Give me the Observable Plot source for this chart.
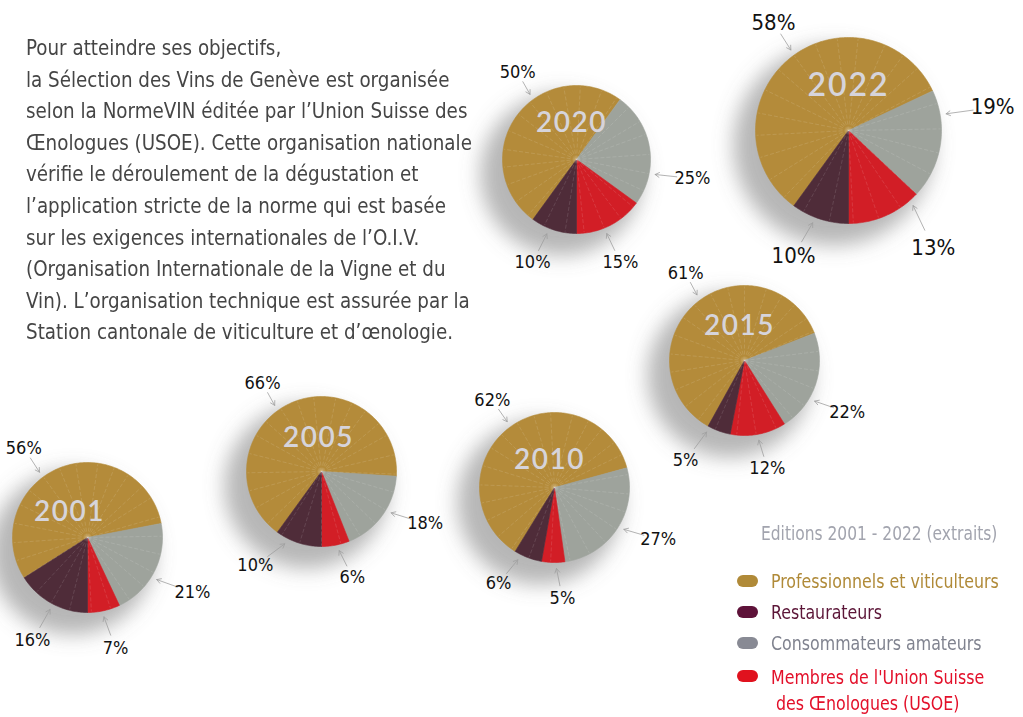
<!DOCTYPE html>
<html><head><meta charset="utf-8">
<script src="https://cdn.jsdelivr.net/npm/d3@7"></script>
<script src="https://cdn.jsdelivr.net/npm/@observablehq/plot@0.6"></script>
<style>
body{margin:0;background:#fff;}
#wrap{position:relative;width:1023px;height:717px;overflow:hidden;font-family:"Liberation Sans Narrow","DejaVu Sans Condensed","Roboto",sans-serif;}
#chart{position:absolute;left:0;top:0;}
#intro{position:absolute;left:26px;top:32px;font-size:22px;line-height:31.6px;color:#454545;white-space:pre;transform:scaleX(0.925);transform-origin:0 0;}
#legendTitle{position:absolute;left:761px;top:521px;font-size:20px;line-height:24px;color:#a2a4ae;white-space:nowrap;transform:scaleX(0.86);transform-origin:0 0;}
.lrow{position:absolute;left:737px;height:24px;white-space:nowrap;font-size:20px;line-height:24px;}
.pill{position:absolute;left:0;top:6px;width:21px;height:12px;border-radius:6px;}
.ltxt{position:absolute;left:34px;top:0;transform:scaleX(0.88);transform-origin:0 0;}
</style></head><body>
<div id="wrap"><div id="chart"></div><div id="intro"></div><div id="legend"></div></div>
<script>
// ---------- data ----------
const years = ["2001", "2005", "2010", "2015", "2020", "2022"];
const categories = ["Professionnels et viticulteurs", "Restaurateurs", "Consommateurs amateurs", "Membres de l'Union Suisse des Œnologues (USOE)"];
const professionnels = [56, 66, 62, 61, 50, 58];
const restaurateurs  = [16, 10, 6, 5, 10, 10];
const consommateurs  = [21, 18, 27, 22, 25, 19];
const membres        = [7, 6, 5, 12, 15, 13];
const legendTitle = "Editions 2001 - 2022 (extraits)";
const introLines = [
  "Pour atteindre ses objectifs,",
  "la Sélection des Vins de Genève est organisée",
  "selon la NormeVIN éditée par l’Union Suisse des",
  "Œnologues (USOE). Cette organisation nationale",
  "vérifie le déroulement de la dégustation et",
  "l’application stricte de la norme qui est basée",
  "sur les exigences internationales de l’O.I.V.",
  "(Organisation Internationale de la Vigne et du",
  "Vin). L’organisation technique est assurée par la",
  "Station cantonale de viticulture et d’œnologie."
];

// ---------- styles / layout ----------
const pieColors = ["#b48b3a", "#4f2c39", "#9ea39c", "#d21e26"];
const legendColors = ["#b08a38", "#5e1239", "#888a94", "#e0121e"];
const legendTextColors = ["#b08a38", "#5c1638", "#80838f", "#e3102a"];
const legendRowsY = [581, 612, 643, 676];
// pie centre, radius, angle of red/dark boundary, year label position
const pieLayout = [
  {cx: 87,  cy: 537, r: 75, rot: 180, yx: 69,  yy: 512, ys: 28, ps: 18},
  {cx: 321, cy: 471, r: 75, rot: 180, yx: 318, yy: 438, ys: 28, ps: 18},
  {cx: 554, cy: 487, r: 75, rot: 190, yx: 549, yy: 460, ys: 28, ps: 18},
  {cx: 744, cy: 360, r: 75, rot: 191, yx: 739, yy: 326, ys: 28, ps: 18},
  {cx: 576, cy: 159, r: 74, rot: 180, yx: 571, yy: 123, ys: 28, ps: 18},
  {cx: 848, cy: 130, r: 93, rot: 180, yx: 848, yy: 85,  ys: 32, ps: 22}
];
// per pie, per category: [text angle, text distance, arrow tip angle]
const labelLayout = [
  [[324.6,110,323.7],[208.1,117,207.5],[117.6,118.5,121.3],[165.8,114.5,168.3]],
  [[326.2,106,324.7],[215.1,115,206.9],[116.6,116,120.7],[163.7,110,167.4]],
  [[324.5,107,324.3],[210.3,111,206.9],[116.6,116,121.1],[175.9,111,178.6]],
  [[325.9,105,324.1],[210.5,116,207.9],[116.8,115,120.1],[168,110,169.8]],
  [[325.9,105,324.5],[203.1,112,201.7],[99.3,117.5,100.8],[156.9,112,157.8]],
  [[325.2,131.5,324.4],[203.7,136.6,201.2],[80.9,146,80.3],[144.2,145,139.3]]
];
const textureAngles = [8, 21, 33, 47, 58, 74, 89, 103, 118, 131, 146, 162, 177, 194, 209, 223, 238, 252, 266, 281, 296, 309, 324, 338, 351];
const sliceOrder = [0, 2, 3, 1]; // clockwise from the gold slice

// ---------- geometry ----------
const W = 1023, H = 717;
const rad = d => d * Math.PI / 180;
const polar = (L, a, d) => [L.cx + d * Math.sin(rad(a)), L.cy - d * Math.cos(rad(a))];

const slicePts = [], shadows = [], yearsData = [], pctData = [], texture = [];
years.forEach((year, i) => {
  const L = pieLayout[i];
  const vals = [professionnels[i], restaurateurs[i], consommateurs[i], membres[i]];
  const total = d3.sum(vals);
  let a = L.rot + vals[1] / total * 360;
  for (const k of sliceOrder) {
    const a1 = a + vals[k] / total * 360;
    const id = year + "-" + k;
    slicePts.push({id, cat: categories[k], x: L.cx, y: L.cy});
    const n = Math.max(2, Math.ceil(a1 - a));
    for (let j = 0; j <= n; j++) {
      const [px, py] = polar(L, a + (a1 - a) * j / n, L.r);
      slicePts.push({id, cat: categories[k], x: px, y: py});
    }
    slicePts.push({id, cat: categories[k], x: L.cx, y: L.cy});
    a = a1;
  }
  shadows.push({x: L.cx - 15, y: L.cy + 15, r: L.r + 7});
  yearsData.push({x: L.yx, y: L.yy, text: year, size: L.ys});
  for (const t of textureAngles) {
    const [ex, ey] = polar(L, t + i * 3, L.r - 1);
    texture.push({x1: L.cx, y1: L.cy, x2: ex, y2: ey});
  }
  labelLayout[i].forEach(([ta, td, pa], k) => {
    const [tx, ty] = polar(L, ta, td);
    const [hx, hy] = polar(L, pa, L.r + 6);
    pctData.push({text: vals[k] + "%", x: tx, y: ty, x2: hx, y2: hy,
      x1: hx + (tx - hx) * 0.58, y1: hy + (ty - hy) * 0.58, size: L.ps});
  });
});

const chart = Plot.plot({
  width: W, height: H, margin: 0,
  x: {domain: [0, W], range: [0, W], axis: null},
  y: {domain: [0, H], range: [0, H], axis: null},
  r: {type: "identity"},
  color: {domain: categories, range: pieColors},
  style: {background: "transparent", overflow: "visible"},
  marks: [
    Plot.dot(shadows, {x: "x", y: "y", r: "r", fill: "#6e6e6e", fillOpacity: 0.5, stroke: null}),
    Plot.line(slicePts, {x: "x", y: "y", z: "id", fill: "cat", stroke: "cat", strokeWidth: 0.6, curve: "linear"}),
    Plot.link(texture, {x1: "x1", y1: "y1", x2: "x2", y2: "y2", stroke: "#ffffff", strokeOpacity: 0.17, strokeWidth: 0.7, strokeDasharray: "4,2"}),
    Plot.text(yearsData.filter(d => d.size < 30), {x: "x", y: "y", text: "text", fill: "#d6d4db", fontSize: 28, fontWeight: 600, fontFamily: "Lato, 'Open Sans', sans-serif"}),
    Plot.text(yearsData.filter(d => d.size >= 30), {x: "x", y: "y", text: "text", fill: "#d6d4db", fontSize: 32, fontWeight: 600, fontFamily: "Lato, 'Open Sans', sans-serif"}),
    Plot.arrow(pctData, {x1: "x1", y1: "y1", x2: "x2", y2: "y2", stroke: "#a0a0a0", strokeWidth: 0.8, headLength: 9}),
    Plot.text(pctData.filter(d => d.size < 20), {x: "x", y: "y", text: "text", fill: "#111", fontSize: 18, fontFamily: "'Liberation Sans Narrow','DejaVu Sans Condensed',sans-serif"}),
    Plot.text(pctData.filter(d => d.size >= 20), {x: "x", y: "y", text: "text", fill: "#111", fontSize: 22, fontFamily: "'Liberation Sans Narrow','DejaVu Sans Condensed',sans-serif"})
  ]
});
// soft blurred shadow through an SVG filter
const NS = "http://www.w3.org/2000/svg";
const defs = document.createElementNS(NS, "defs");
const filt = document.createElementNS(NS, "filter");
filt.setAttribute("id", "pieShadow");
filt.setAttribute("filterUnits", "userSpaceOnUse");
filt.setAttribute("x", "-100"); filt.setAttribute("y", "-100");
filt.setAttribute("width", String(W + 200)); filt.setAttribute("height", String(H + 200));
const blur = document.createElementNS(NS, "feGaussianBlur");
blur.setAttribute("stdDeviation", "10");
filt.appendChild(blur); defs.appendChild(filt);
chart.insertBefore(defs, chart.firstChild);
const dotGroups = chart.querySelectorAll('g[aria-label="dot"]');
dotGroups.forEach(g => g.setAttribute("filter", "url(#pieShadow)"));
const textGroups = chart.querySelectorAll('g[aria-label="text"]');
if (textGroups[0]) textGroups[0].querySelectorAll("text").forEach(t => t.setAttribute("letter-spacing", "1.5"));
if (textGroups[1]) textGroups[1].querySelectorAll("text").forEach(t => t.setAttribute("letter-spacing", "2"));
document.getElementById("chart").appendChild(chart);

document.getElementById("intro").textContent = introLines.join("\n");

const leg = document.getElementById("legend");
const lt = document.createElement("div");
lt.id = "legendTitle"; lt.textContent = legendTitle; leg.appendChild(lt);
categories.forEach((c, k) => {
  const row = document.createElement("div");
  row.className = "lrow";
  row.style.top = (legendRowsY[k] - 12) + "px";
  const p = document.createElement("div");
  p.className = "pill"; p.style.background = legendColors[k];
  const t = document.createElement("div");
  t.className = "ltxt"; t.style.color = legendTextColors[k];
  if (k === 3) { t.style.whiteSpace = "pre"; t.style.lineHeight = "26px"; t.textContent = "Membres de l'Union Suisse\n des Œnologues (USOE)"; }
  else t.textContent = c;
  row.appendChild(p); row.appendChild(t); leg.appendChild(row);
});
</script>
</body></html>
